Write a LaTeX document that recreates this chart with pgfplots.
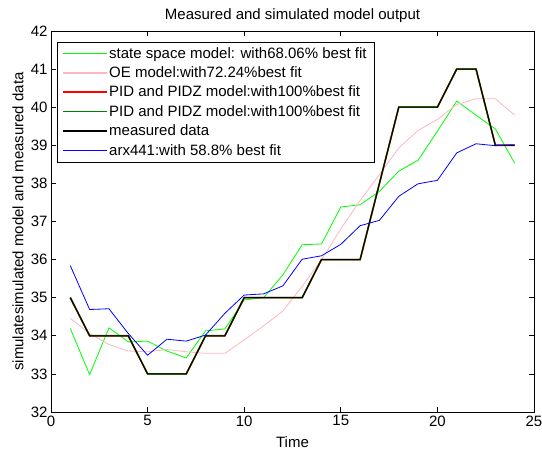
\documentclass[border=0pt]{standalone}
\usepackage{pgfplots}
\pgfplotsset{compat=1.18}
\usepackage{fontspec}
\setmainfont{Liberation Sans}
\definecolor{oepink}{RGB}{255,182,193}
\definecolor{pidgreen}{RGB}{0,128,0}
\definecolor{ssgreen}{RGB}{0,255,0}
\definecolor{arxblue}{RGB}{0,0,255}
\pgfplotsset{
  legend image code/.code={\path[#1, draw=none, fill] (0pt,-0.8pt) rectangle (44pt,0.8pt);}
}
\begin{document}
\begin{tikzpicture}
\begin{axis}[
  scale only axis, width=483pt, height=381pt,
  xmin=0, xmax=25, ymin=32, ymax=42,
  xtick={0,5,10,15,20,25}, ytick={32,33,...,42},
  tick align=inside, major tick length=5pt,
  axis line style={line width=0.8pt}, tick style={line width=0.6pt, black},
  font=\fontsize{15}{17}\selectfont,
  /pgf/number format/assume math mode=true,
  title={Measured and simulated model output},
  title style={at={(axis description cs:0.5,1.0135)}, anchor=base},
  xlabel={Time},
  xlabel style={at={(axis description cs:0.5,-0.08)}, anchor=center},
  ylabel={simulatesimulated model and measured data},
  ylabel style={at={(axis description cs:-0.0683,0.5)}, anchor=center},
  legend style={at={(0.0124,0.972)}, anchor=north west,
    font=\fontsize{15}{17}\selectfont, row sep=4pt, inner xsep=6pt, inner ysep=4pt,
    nodes={inner xsep=2pt, inner ysep=1.5pt}},
  legend cell align=left,
]
\addplot[color=ssgreen, line width=0.8pt] coordinates {
(1,34.19)(2,32.98)(3,34.21)(4,33.84)(5,33.86)(6,33.6)(7,33.42)(8,34.13)(9,34.18)(10,34.94)(11,35.0)(12,35.6)
(13,36.39)(14,36.41)(15,37.38)(16,37.44)(17,37.79)(18,38.32)(19,38.61)(20,39.37)(21,40.16)(22,39.79)(23,39.43)(24,38.53)};
\addlegendentry{state space model: with68.06\% best fit\hspace{7pt}}
\addplot[color=oepink, line width=0.8pt] coordinates {
(1,34.46)(2,34.06)(3,33.77)(4,33.6)(5,33.58)(6,33.64)(7,33.58)(8,33.54)(9,33.54)(10,33.89)(11,34.26)(12,34.65)
(13,35.3)(14,36.0)(15,36.8)(16,37.55)(17,38.23)(18,38.93)(19,39.39)(20,39.68)(21,40.07)(22,40.22)(23,40.22)(24,39.79)};
\addlegendentry{OE model:with72.24\%best fit}
\addplot[color=red, line width=1.6pt] coordinates {
(1,35)(2,34)(3,34)(4,34)(5,33)(6,33)(7,33)(8,34)(9,34)(10,35)(11,35)(12,35)
(13,35)(14,36)(15,36)(16,36)(17,38)(18,40)(19,40)(20,40)(21,41)(22,41)(23,39)(24,39)};
\addlegendentry{PID and PIDZ model:with100\%best fit}
\addplot[color=pidgreen, line width=1.4pt] coordinates {
(1,35)(2,34)(3,34)(4,34)(5,33)(6,33)(7,33)(8,34)(9,34)(10,35)(11,35)(12,35)
(13,35)(14,36)(15,36)(16,36)(17,38)(18,40)(19,40)(20,40)(21,41)(22,41)(23,39)(24,39)};
\addlegendentry{PID and PIDZ model:with100\%best fit}
\addplot[color=black, line width=1pt] coordinates {
(1,35)(2,34)(3,34)(4,34)(5,33)(6,33)(7,33)(8,34)(9,34)(10,35)(11,35)(12,35)
(13,35)(14,36)(15,36)(16,36)(17,38)(18,40)(19,40)(20,40)(21,41)(22,41)(23,39)(24,39)};
\addlegendentry{measured data}
\addplot[color=arxblue, line width=0.8pt] coordinates {
(1,35.84)(2,34.69)(3,34.71)(4,34.06)(5,33.49)(6,33.91)(7,33.86)(8,34.02)(9,34.59)(10,35.07)(11,35.1)(12,35.31)
(13,36.01)(14,36.1)(15,36.4)(16,36.89)(17,37.03)(18,37.66)(19,37.99)(20,38.08)(21,38.8)(22,39.04)(23,38.99)(24,39.01)};
\addlegendentry{arx441:with 58.8\% best fit}
\end{axis}
\pgfresetboundingbox
\path (-51pt,-38pt) rectangle (491pt,412pt);
\end{tikzpicture}
\end{document}
